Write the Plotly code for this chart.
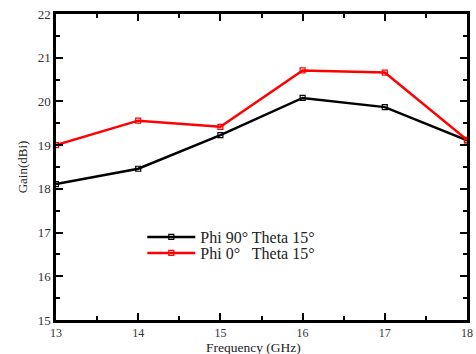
import plotly.graph_objects as go

freq = [13, 14, 15, 16, 17, 18]
phi90 = [18.11, 18.46, 19.23, 20.08, 19.87, 19.11]
phi0 = [19.00, 19.56, 19.42, 20.71, 20.66, 19.12]
names = ["Phi 90° Theta 15°", "Phi 0°   Theta 15°"]

font = "Liberation Serif, Times New Roman, serif"
H = 354
top, bot = 14, 34
ph = H - top - bot
ax_y = H - bot

fig = go.Figure()
fig.add_trace(go.Scatter(x=freq, y=phi90, name=names[0], mode="lines+markers", legend="legend",
                         showlegend=True,
                         line=dict(color="black", width=2.5),
                         marker=dict(symbol="square-open", size=5, color="black", line=dict(width=1.2))))
fig.add_trace(go.Scatter(x=freq, y=phi0, name=names[1], mode="lines+markers", legend="legend2",
                         showlegend=True,
                         line=dict(color="#ff0000", width=2.5),
                         marker=dict(symbol="square-open", size=5, color="#ff0000", line=dict(width=1.2))))

axis_common = dict(showline=True, linecolor="black", linewidth=2.5, mirror="ticks",
                   ticks="inside", ticklen=7, tickwidth=2, tickcolor="black",
                   showgrid=False, zeroline=False, automargin=False,
                   tickfont=dict(family=font, size=13, color="#333"),
                   minor=dict(ticks="inside", ticklen=4, tickwidth=2, tickcolor="black", dtick=0.5, showgrid=False))

fig.update_xaxes(range=[13, 18], dtick=1, **axis_common)
fig.update_xaxes(tickfont=dict(family=font, size=12, color="#333"))
fig.update_yaxes(range=[15, 22], dtick=1, title=dict(text="Gain(dBi)", font=dict(family=font, size=13, color="#222"), standoff=8),
                 **axis_common)

fig.add_annotation(text="Frequency (GHz)", xref="paper", yref="paper", x=0.48, y=-(347 - ax_y) / ph,
                   xanchor="center", yanchor="middle", showarrow=False,
                   font=dict(family=font, size=13.5, color="#222"))

leg_common = dict(xanchor="left", yanchor="middle", bgcolor="rgba(0,0,0,0)",
                  font=dict(family=font, size=16, color="#222"), itemwidth=48)
fig.update_layout(width=476, height=H, margin=dict(l=56, r=9, t=top, b=bot),
                  plot_bgcolor="white", paper_bgcolor="white", showlegend=True,
                  font=dict(family=font, size=14, color="#222"),
                  legend=dict(x=0.21, y=(ax_y - 237) / ph, **leg_common),
                  legend2=dict(x=0.21, y=(ax_y - 253) / ph, **leg_common))
fig.write_html("out.html")
